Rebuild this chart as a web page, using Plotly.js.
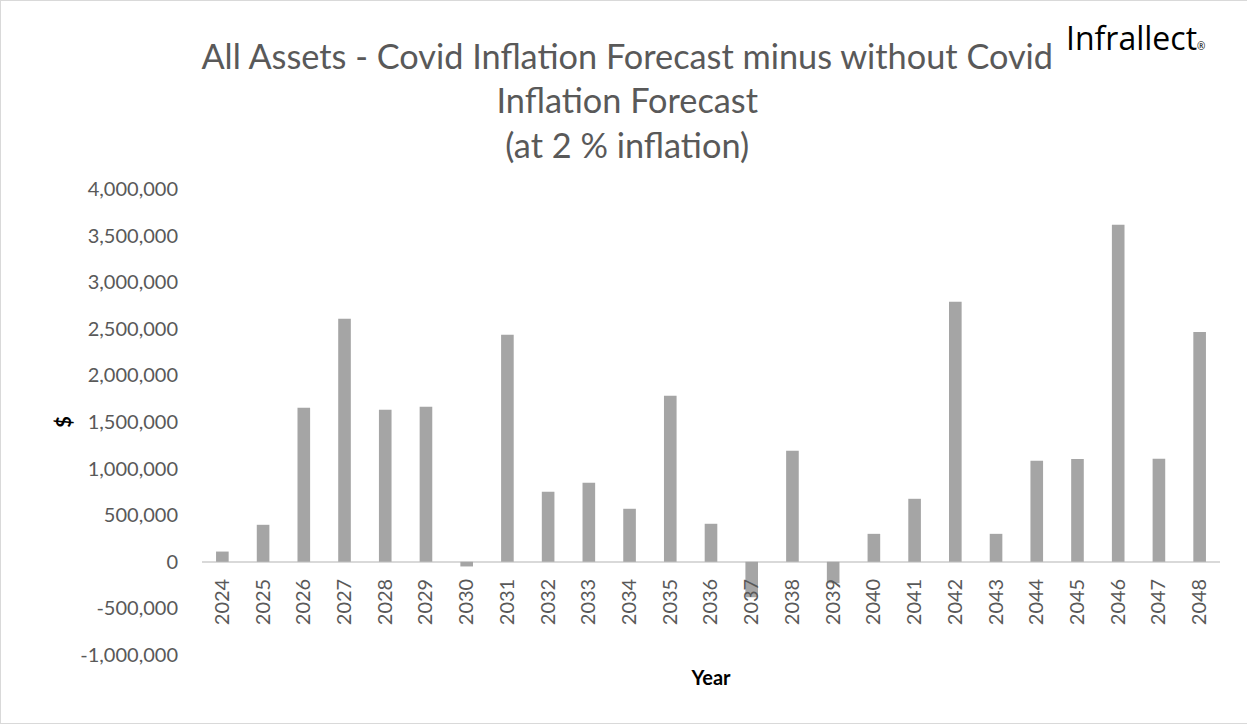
<!DOCTYPE html>
<html>
<head>
<meta charset="utf-8">
<script src="https://cdn.plot.ly/plotly-3.0.1.min.js"></script>
<style>
  html, body { margin: 0; padding: 0; background: #ffffff; }
  #chart { width: 1247px; height: 725px; }
  #frame { position: absolute; left: 0; top: 0; width: 1260px; height: 722px;
           border: 1px solid #d9d9d9; pointer-events: none; }
</style>
</head>
<body>
<div id="chart"></div>
<div id="frame"></div>
<script>
const years = ['2024','2025','2026','2027','2028','2029','2030','2031','2032','2033','2034','2035','2036',
               '2037','2038','2039','2040','2041','2042','2043','2044','2045','2046','2047','2048'];
const diffValues = [110000, 397000, 1652000, 2607000, 1631000, 1663000, -50000, 2436000, 751000, 848000,
                    569000, 1781000, 408000, -380000, 1191000, -230000, 300000, 676000, 2790000, 300000,
                    1084000, 1102000, 3616000, 1105000, 2465000];
const yTickVals = [-1000000, -500000, 0, 500000, 1000000, 1500000, 2000000, 2500000, 3000000, 3500000, 4000000];
const yTickText = ['-1,000,000', '-500,000', '0', '500,000', '1,000,000', '1,500,000', '2,000,000',
                   '2,500,000', '3,000,000', '3,500,000', '4,000,000'];
const titleLines = ['All Assets - Covid Inflation Forecast minus without Covid', 'Inflation Forecast', '(at 2 % inflation)'];
const yTitle = '$';
const xTitle = 'Year';
const logoText = 'Infrallect';

const FONT = 'Lato, "Open Sans", sans-serif';
const GREY = '#595959';

const trace = {
  type: 'bar',
  x: years,
  y: diffValues,
  marker: { color: '#a5a5a5' },
  hoverinfo: 'x+y'
};

const yMin = yTickVals[0], yMax = yTickVals[yTickVals.length - 1];

const layout = {
  width: 1247,
  height: 725,
  margin: { l: 202, r: 27, t: 189, b: 70 },
  paper_bgcolor: '#ffffff',
  plot_bgcolor: '#ffffff',
  showlegend: false,
  bargap: 0.69,
  font: { family: FONT, color: GREY, size: 20 },
  title: {
    text: titleLines.join('<br>'),
    font: { family: FONT, size: 34.3, color: GREY },
    xref: 'container', x: 0.503, xanchor: 'center',
    yref: 'container', y: 0.905, yanchor: 'top'
  },
  xaxis: {
    type: 'category',
    anchor: 'free',
    position: (0 - yMin) / (yMax - yMin),
    tickangle: -90,
    ticks: '',
    showline: false,
    showgrid: false,
    zeroline: false,
    ticklabelstandoff: 12,
    tickfont: { family: FONT, size: 20, color: GREY },
    title: { text: '<b>' + xTitle + '</b>', font: { family: FONT, size: 20, color: '#000000' }, standoff: 46 }
  },
  yaxis: {
    range: [yMin, yMax],
    tickmode: 'array',
    tickvals: yTickVals,
    ticktext: yTickText,
    showgrid: false,
    zeroline: true,
    zerolinecolor: '#d9d9d9',
    zerolinewidth: 2,
    showline: false,
    ticks: '',
    ticklabelstandoff: 23,
    tickfont: { family: FONT, size: 20, color: GREY },
    title: { text: '<b>' + yTitle + '</b>', font: { family: FONT, size: 20, color: '#000000' }, standoff: 3 }
  },
  annotations: [
    {
      text: logoText + '<span style="font-size:10px">®</span>',
      xref: 'paper', yref: 'paper',
      x: (1064 - 202) / (1247 - 202 - 27), xanchor: 'left',
      y: 1 + (189 - 37) / (725 - 189 - 70), yanchor: 'middle',
      showarrow: false,
      font: { family: '"Open Sans", sans-serif', size: 32, color: '#000000' }
    }
  ]
};

Plotly.newPlot('chart', [trace], layout, { displayModeBar: false, staticPlot: true });
</script>
</body>
</html>
